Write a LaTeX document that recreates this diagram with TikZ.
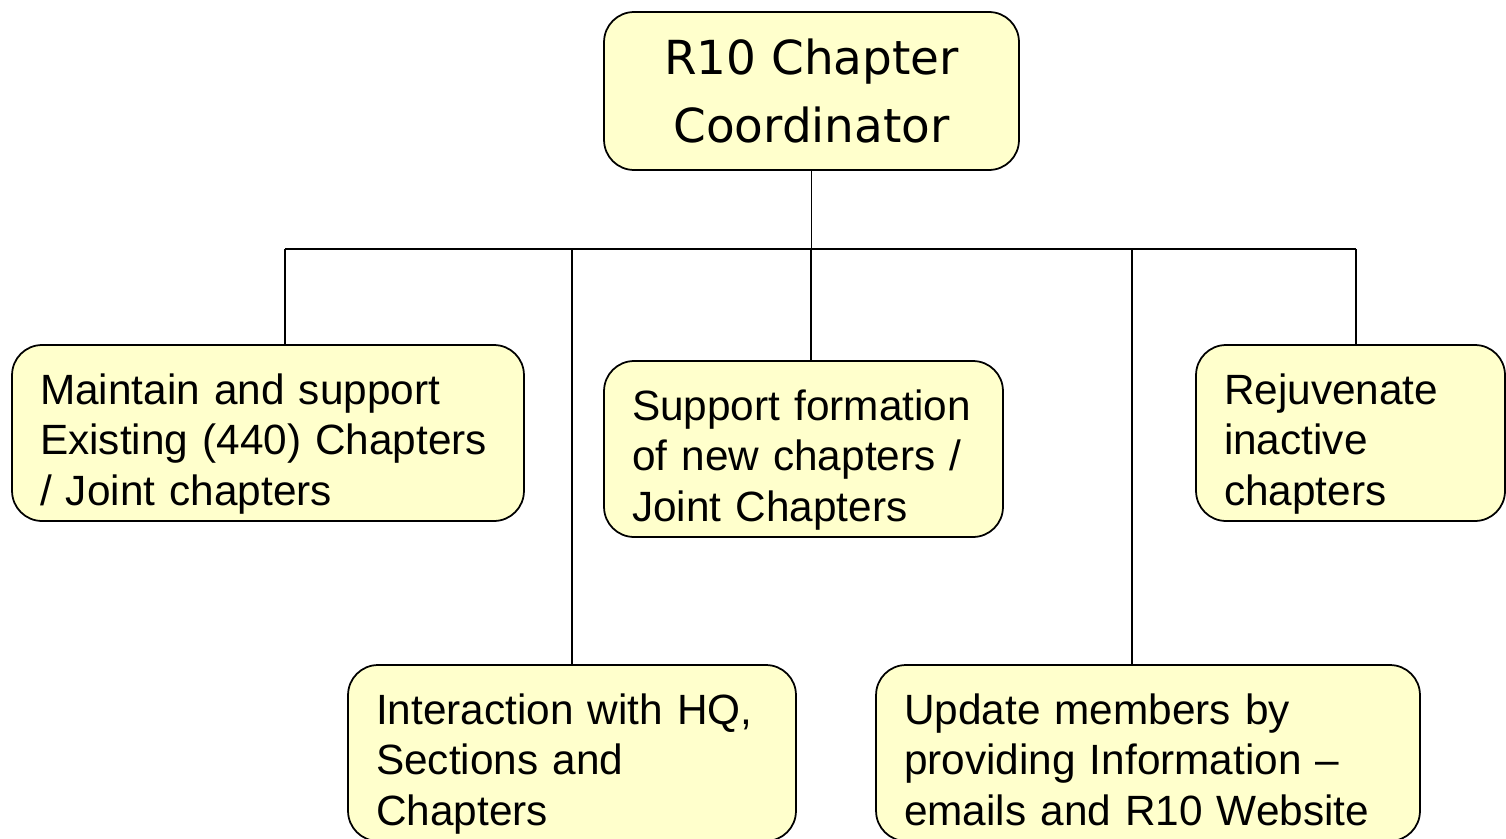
\documentclass[tikz,border=0pt]{standalone}
\usepackage{fontspec}
\setmainfont{Liberation Sans}
\newfontfamily\titlefont{DejaVu Sans}
\definecolor{boxyellow}{RGB}{255,255,204}

\begin{document}
\begin{tikzpicture}[x=0.02cm, y=-0.02cm]
        \tikzstyle{every node}=[rectangle, rounded corners=0.6cm, fill=boxyellow, draw=black, line width=1pt, inner xsep=0.56cm, inner ysep=0pt, minimum height=3.52cm, align=left, font=\fontsize{24.1}{29}\selectfont, text=black]
        \tikzstyle{padded}=[execute at begin node={\rule{0pt}{33pt}}, execute at end node={\rule[-8pt]{0pt}{8pt}}]
        \tikzstyle{edge}=[black, line width=0.8pt]

        \useasboundingbox (0,0) rectangle (1506,838);

        \node (coord)    at (811.5,91)  [minimum width=8.3cm, minimum height=3.16cm, align=center, font=\titlefont\fontsize{26.7}{38.6}\selectfont] {R10 Chapter\\Coordinator};

        \node (maintain) at (268,433)   [padded, text width=9.12cm] {Maintain and support\\Existing (440) Chapters\\/ Joint chapters};
        \node (support)  at (803.5,449) [padded, text width=6.86cm] {Support formation\\of new chapters /\\Joint Chapters};
        \node (rejuv)    at (1350.5,433)[padded, text width=5.06cm] {Rejuvenate\\inactive\\chapters};

        \node (interact) at (572,753)   [padded, text width=7.84cm] {Interaction with HQ,\\Sections and\\Chapters};
        \node (update)   at (1148,753)  [padded, text width=9.76cm] {Update members by\\providing Information –\\emails and R10 Website};

        \coordinate (busL) at (285,249);
        \coordinate (busR) at (1356,249);
        \coordinate (bus2) at (572,249);
        \coordinate (bus3) at (811,249);
        \coordinate (bus4) at (1132,249);

        \draw[edge] (coord) -- (coord |- busL);
        \draw[edge] (busL) -- (busR);

        \draw[edge] (busL) -- (busL |- maintain.north);
        \draw[edge] (bus2) -- (bus2 |- interact.north);
        \draw[edge] (bus3) -- (bus3 |- support.north);
        \draw[edge] (bus4) -- (bus4 |- update.north);
        \draw[edge] (busR) -- (busR |- rejuv.north);
    \end{tikzpicture}
\end{document}
